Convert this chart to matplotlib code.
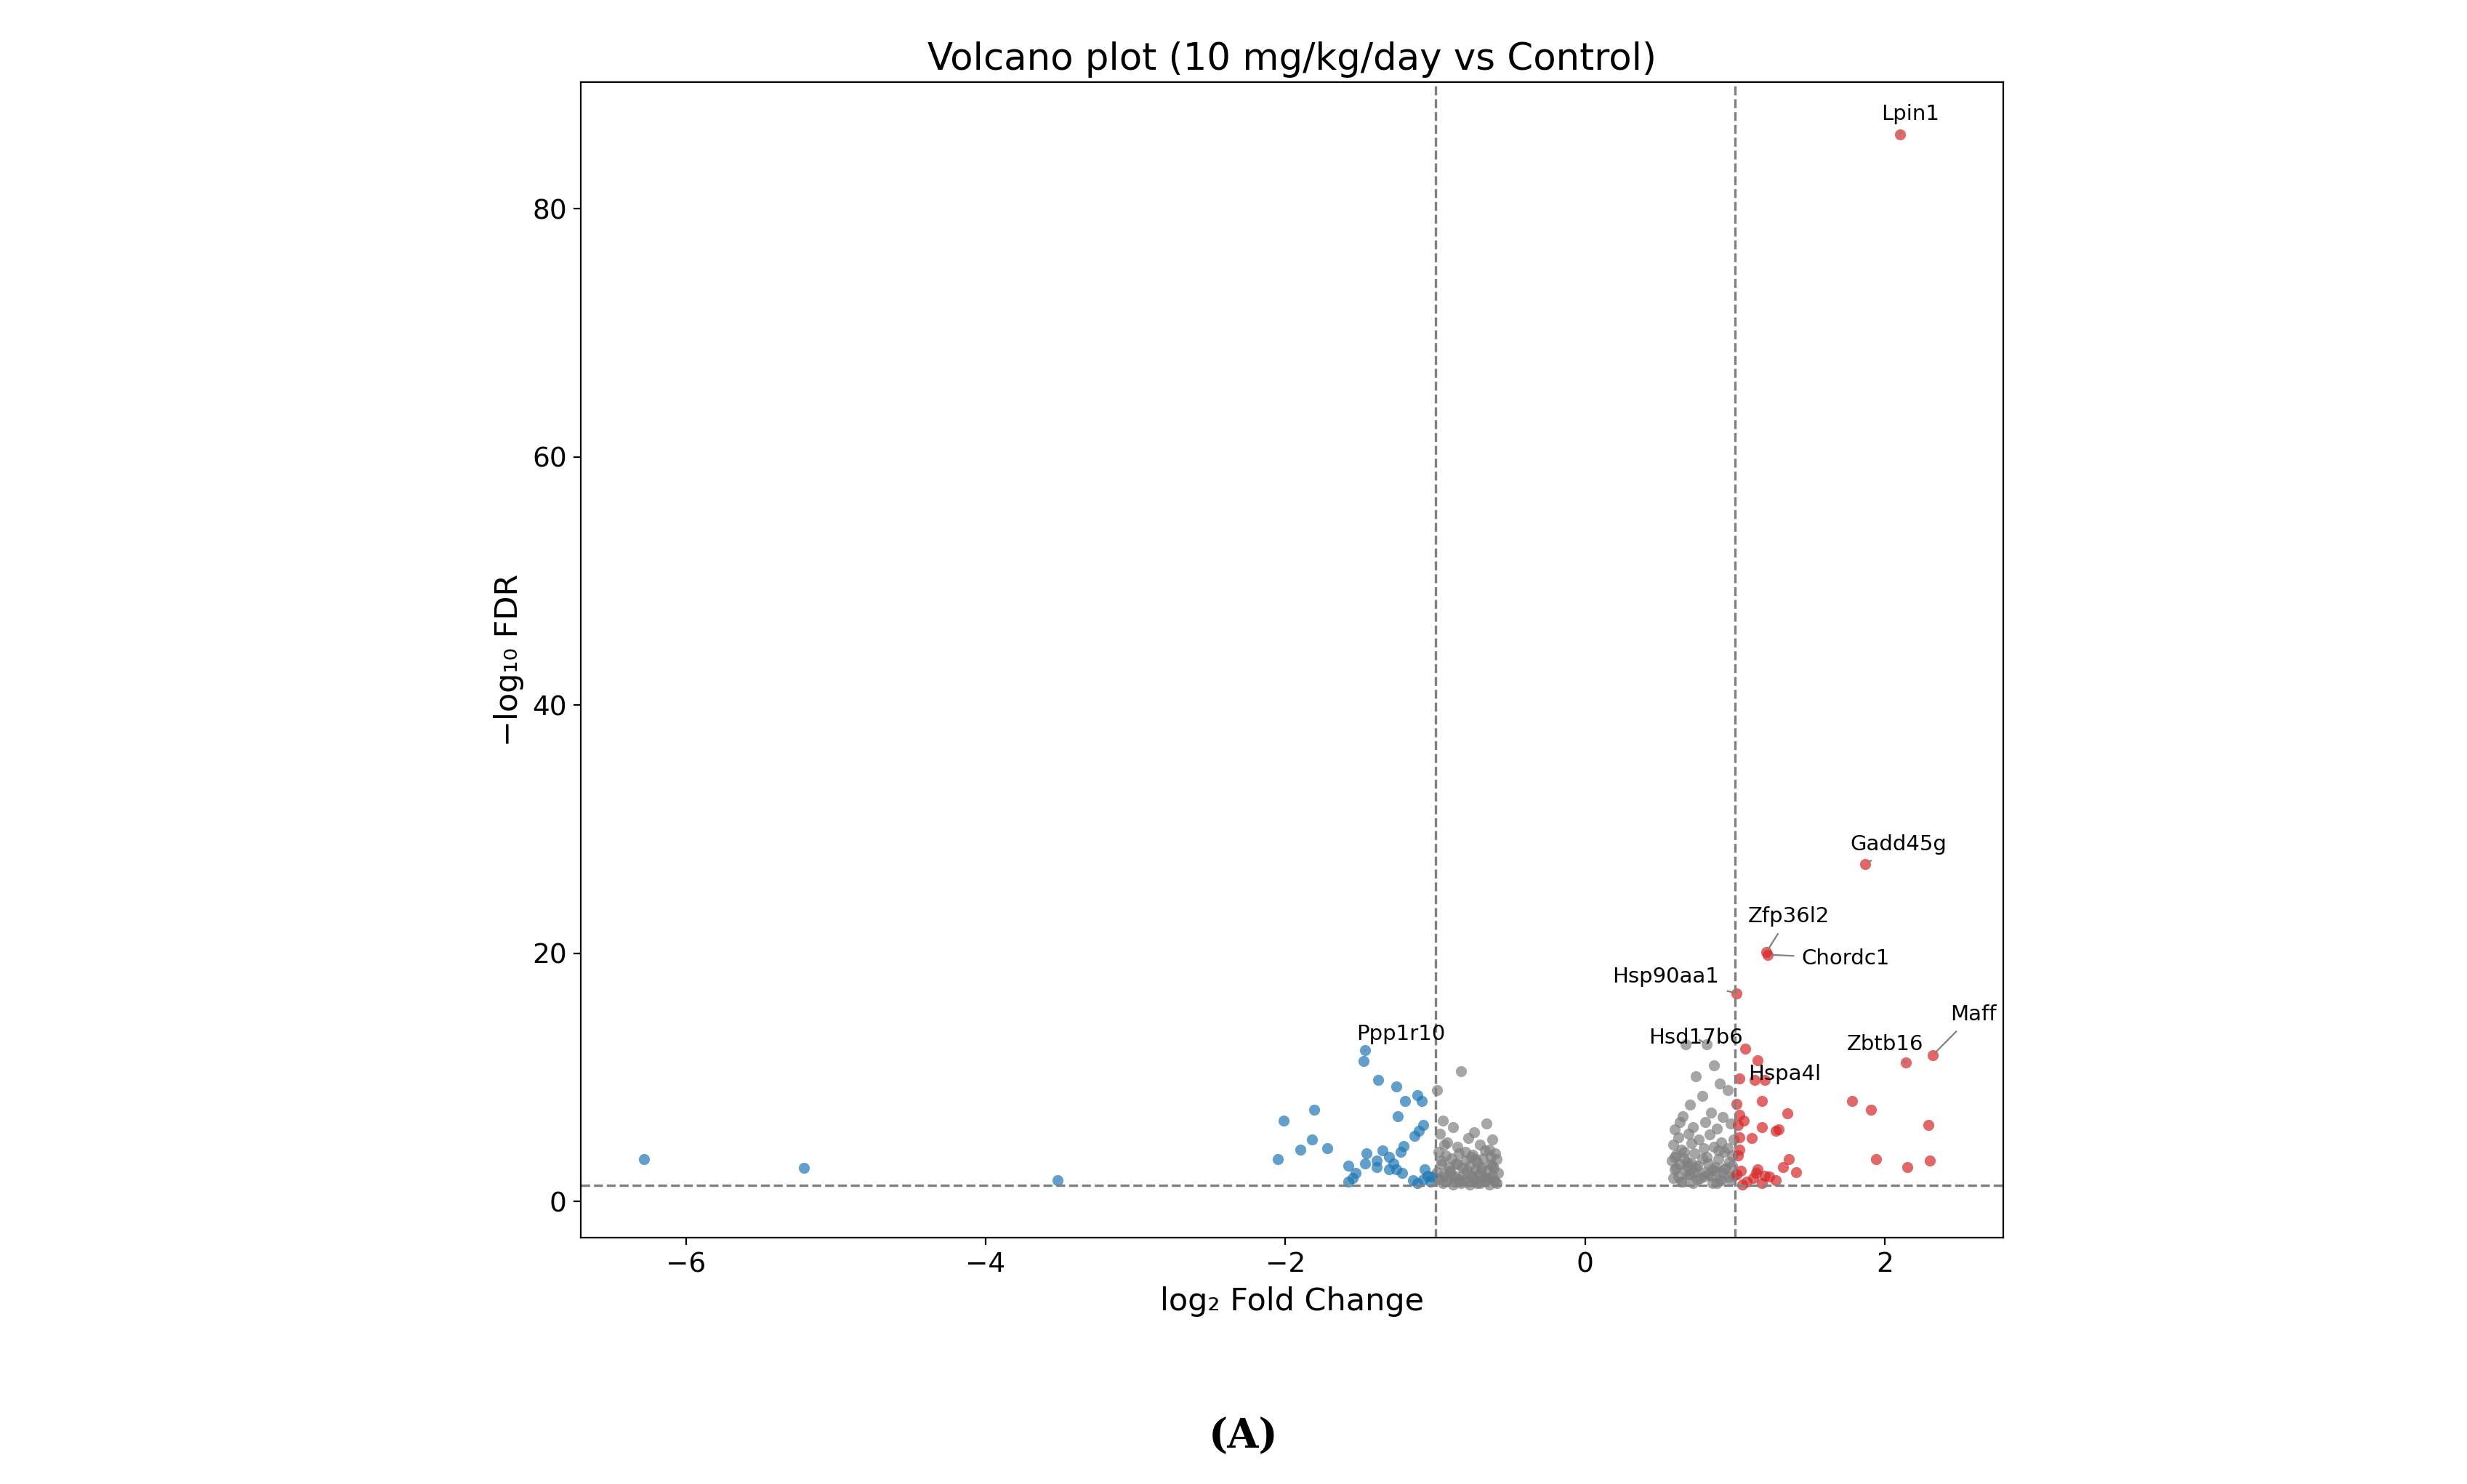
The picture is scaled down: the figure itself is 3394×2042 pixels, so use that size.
import matplotlib
matplotlib.use("Agg")
import matplotlib.pyplot as plt

# up-regulated (red)
up_x = [2.10, 1.87, 1.21, 1.22, 1.01, 2.32, 2.14, 1.03, 1.07, 1.15, 1.13, 1.20, 1.18, 1.78, 1.91,
        1.35, 1.01, 1.03, 1.06, 1.02, 1.18, 1.27, 1.29, 2.29, 1.03, 1.11, 1.03, 1.02, 1.94, 2.30,
        2.15, 1.36, 1.32, 1.41, 1.04, 1.15, 1.20, 1.23, 1.01, 1.12, 1.08, 1.18, 1.27, 1.05, 1.14]
up_y = [86.0, 27.2, 20.1, 19.9, 16.8, 11.8, 11.2, 9.9, 12.3, 11.4, 9.8, 9.8, 8.1, 8.1, 7.4,
        7.1, 7.9, 7.0, 6.5, 6.2, 6.0, 5.7, 5.8, 6.2, 5.2, 5.1, 4.2, 3.7, 3.4, 3.3,
        2.8, 3.4, 2.8, 2.4, 2.5, 2.6, 2.1, 2.0, 2.2, 1.9, 1.6, 1.5, 1.7, 1.4, 2.3]

# down-regulated (blue)
down_x = [-1.47, -1.48, -1.38, -1.26, -1.12, -1.09, -1.20, -1.81, -1.25, -2.01, -1.08, -1.11,
          -1.14, -1.82, -1.90, -1.72, -1.21, -1.23, -2.05, -1.46, -1.35, -1.31, -1.39, -1.47,
          -1.28, -1.58, -1.53, -1.39, -1.31, -1.26, -1.22, -1.07, -1.05, -6.28, -5.21, -3.52,
          -1.03, -1.08, -1.15, -1.58, -1.55, -1.02, -1.12]
down_y = [12.2, 11.3, 9.8, 9.3, 8.6, 8.1, 8.1, 7.4, 6.9, 6.5, 6.2, 5.7,
          5.3, 5.0, 4.2, 4.3, 4.5, 4.0, 3.4, 3.9, 4.1, 3.6, 3.3, 3.1,
          3.1, 2.9, 2.3, 2.8, 2.6, 2.6, 2.3, 2.6, 2.1, 3.4, 2.7, 1.7,
          1.6, 1.8, 1.7, 1.6, 1.9, 2.0, 1.5]

# not significant (grey)
ns_x = [-0.83, -0.99, -0.95, -0.88, -0.74, -0.66, -0.62, -0.97, -0.92, -0.85, -0.78, -0.70,
        -0.64, -0.60, -0.98, -0.93, -0.89, -0.84, -0.80, -0.76, -0.72, -0.68, -0.63, -0.59,
        -0.96, -0.91, -0.86, -0.82, -0.77, -0.73, -0.69, -0.65, -0.61, -0.99, -0.94, -0.90,
        -0.87, -0.81, -0.75, -0.71, -0.67, -0.62, -0.58, -0.97, -0.92, -0.86, -0.79, -0.74,
        -0.70, -0.66, -0.60, -0.95, -0.88, -0.83, -0.77, -0.72, -0.64, -0.59, -0.84, -0.68,
        -0.98, -0.93, -0.87, -0.81, -0.76, -0.71, -0.65, -0.61, -0.90, -0.79, -0.69, -0.62,
        -0.96, -0.85, -0.75, -0.67, -0.94, -0.80, -0.73, -0.63,
        0.67, 0.81, 0.86, 0.74, 0.90, 0.95, 0.70, 0.78, 0.84, 0.92, 0.63, 0.60,
        0.65, 0.72, 0.80, 0.88, 0.97, 0.99, 0.62, 0.69, 0.76, 0.83, 0.91, 0.95,
        0.59, 0.64, 0.71, 0.79, 0.86, 0.93, 0.98, 0.61, 0.66, 0.73, 0.81, 0.89,
        0.96, 0.58, 0.63, 0.68, 0.75, 0.82, 0.87, 0.94, 0.60, 0.67, 0.74, 0.80,
        0.85, 0.92, 0.99, 0.62, 0.70, 0.77, 0.84, 0.90, 0.97, 0.65, 0.72, 0.88,
        0.59, 0.64, 0.69, 0.75, 0.79, 0.85, 0.91, 0.96, 0.61, 0.68, 0.73, 0.82,
        0.87, 0.93, 0.60, 0.66, 0.71, 0.78, 0.89, 0.98]
ns_y = [10.5, 9.0, 6.5, 6.0, 5.6, 6.3, 5.0, 5.5, 4.8, 4.4, 5.1, 4.6,
        4.2, 3.9, 4.0, 3.7, 3.5, 3.9, 3.3, 3.6, 3.2, 3.5, 3.0, 3.4,
        3.0, 2.8, 3.1, 2.7, 2.9, 2.6, 2.8, 2.5, 2.7, 2.4, 2.2, 2.5,
        2.1, 2.3, 2.0, 2.2, 1.9, 2.1, 2.3, 1.8, 1.7, 1.9, 1.6, 1.8,
        1.5, 1.7, 1.6, 1.5, 1.4, 1.5, 1.4, 1.5, 1.4, 1.5, 1.8, 2.0,
        1.9, 2.0, 1.6, 1.7, 2.1, 1.6, 1.9, 1.7, 2.4, 2.5, 2.6, 2.9,
        3.3, 3.0, 3.8, 4.1, 4.6, 4.0, 3.4, 3.6,
        12.7, 12.7, 11.0, 10.1, 9.5, 9.0, 7.8, 8.5, 7.2, 6.8, 6.4, 5.8,
        6.9, 6.0, 6.4, 5.9, 6.3, 5.0, 5.2, 5.5, 5.0, 5.4, 4.8, 4.3,
        4.6, 4.2, 4.7, 4.3, 4.4, 4.0, 3.7, 3.8, 3.5, 3.9, 3.6, 3.4,
        3.2, 3.3, 3.0, 3.2, 2.9, 3.1, 2.8, 2.7, 2.6, 2.5, 2.7, 2.4,
        2.6, 2.3, 2.1, 2.0, 2.2, 1.9, 2.1, 1.8, 1.7, 1.6, 1.5, 1.5,
        1.9, 1.6, 2.2, 1.8, 2.0, 1.5, 1.7, 2.0, 2.7, 2.9, 2.4, 2.2,
        2.5, 2.6, 3.6, 4.0, 3.1, 3.5, 4.1, 2.9]

labels = ["Lpin1", "Gadd45g", "Zfp36l2", "Chordc1", "Hsp90aa1", "Maff", "Zbtb16", "Hsd17b6", "Hspa4l", "Ppp1r10"]
label_pt_x = [2.10, 1.87, 1.21, 1.22, 1.01, 2.32, 2.14, 0.81, 1.03, -1.47]
label_pt_y = [86.0, 27.2, 20.1, 19.9, 16.8, 11.8, 11.2, 12.7, 9.9, 12.2]
label_tx_x = [2.17, 2.09, 1.36, 1.74, 0.54, 2.59, 2.00, 0.74, 1.33, -1.23]
label_tx_y = [87.6, 28.8, 23.0, 19.6, 18.1, 15.1, 12.7, 13.2, 10.3, 13.5]

fig = plt.figure(figsize=(16.97, 10.21), dpi=200)
ax = fig.add_axes([0.2355, 0.166, 0.5765, 0.7787])

ax.scatter(ns_x, ns_y, s=30, color="#808080", alpha=0.7, linewidths=0)
ax.scatter(down_x, down_y, s=30, color="#1f77b4", alpha=0.7, linewidths=0)
ax.scatter(up_x, up_y, s=30, color="#d62728", alpha=0.7, linewidths=0)

ax.axhline(1.3, color="grey", ls="--", lw=1.2)
ax.axvline(-1, color="grey", ls="--", lw=1.2)
ax.axvline(1, color="grey", ls="--", lw=1.2)

for lab, px, py, tx, ty in zip(labels, label_pt_x, label_pt_y, label_tx_x, label_tx_y):
    ax.annotate(lab, (px, py), xytext=(tx, ty), ha="center", va="center", fontsize=10.5,
                arrowprops=dict(arrowstyle="-", color="grey", lw=0.8, shrinkA=2, shrinkB=2))

ax.set_xlim(-6.7, 2.79)
ax.set_ylim(-2.9, 90.2)
ax.set_xticks([-6, -4, -2, 0, 2])
ax.set_yticks([0, 20, 40, 60, 80])
ax.tick_params(labelsize=13.5)
ax.set_xlabel("log₂ Fold Change", fontsize=15.5)
ax.set_ylabel("−log₁₀ FDR", fontsize=15.5)
ax.set_title("Volcano plot (10 mg/kg/day vs Control)", fontsize=18.5)

fig.text(0.504, 0.032, "(A)", ha="center", va="center", fontsize=20, fontweight="bold", family="DejaVu Serif")

fig.savefig("out.png", dpi=200)
